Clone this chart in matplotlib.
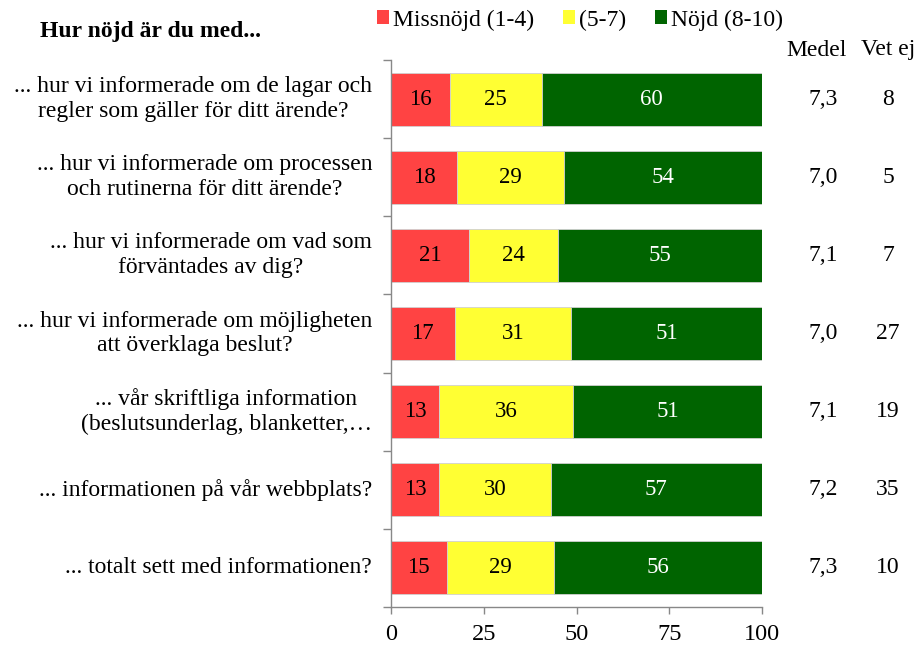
import matplotlib
matplotlib.use("Agg")
import matplotlib.pyplot as plt
import numpy as np
from matplotlib.patches import Patch

plt.rcParams['font.family'] = ['Liberation Serif', 'DejaVu Serif']

categories = [
    "... hur vi informerade om de lagar och\nregler som gäller för ditt ärende?",
    "... hur vi informerade om processen\noch rutinerna för ditt ärende?",
    "... hur vi informerade om vad som\nförväntades av dig?",
    "... hur vi informerade om möjligheten\natt överklaga beslut?",
    "... vår skriftliga information\n(beslutsunderlag, blanketter,…",
    "... informationen på vår webbplats?",
    "... totalt sett med informationen?",
]
missnojd = [16, 18, 21, 17, 13, 13, 15]
mellan = [25, 29, 24, 31, 36, 30, 29]
nojd = [60, 54, 55, 51, 51, 57, 56]
medel = ["7,3", "7,0", "7,1", "7,0", "7,1", "7,2", "7,3"]
vet_ej = ["8", "5", "7", "27", "19", "35", "10"]
series_names = ["Missnöjd (1-4)", "(5-7)", "Nöjd (8-10)"]
colors = ["#FF4343", "#FFFF33", "#006400"]
text_colors = ["black", "black", "white"]
xticks = [0, 25, 50, 75, 100]

FS = 17

data = np.array([missnojd, mellan, nojd], dtype=float)
totals = data.sum(axis=0)
shares = data / totals * 100

fig = plt.figure(figsize=(9.21, 6.46), dpi=100)
ax = fig.add_axes([391/921, 1-607/646, (762-391)/921, (607-60)/646])

y = np.arange(len(categories))
left = np.zeros(len(categories))
for i in range(3):
    ax.barh(y, shares[i], left=left, height=0.68, color=colors[i],
            edgecolor="#D0D0D0", linewidth=0.6)
    for j in range(len(categories)):
        ax.text(left[j] + shares[i][j] / 2, y[j], str(int(data[i][j])),
                ha="center", va="center", fontsize=16.5, color=text_colors[i])
    left += shares[i]

ax.set_xlim(0, 100)
ax.set_ylim(len(categories) - 0.5, -0.5)
ax.set_xticks(xticks)
ax.set_xticklabels([str(t) for t in xticks], fontsize=17.5)
ax.set_yticks(y)
ax.set_yticklabels([])
ax.tick_params(axis="y", which="major", length=0)
ax.set_yticks(np.arange(-0.5, len(categories), 1), minor=True)
ax.tick_params(axis="y", which="minor", length=6, color="#888888", width=1)
ax.tick_params(axis="x", length=5, color="#888888", width=1, pad=7)

for j, lab in enumerate(categories):
    ax.annotate(lab, xy=(0, y[j]), xycoords=("axes fraction", "data"),
                xytext=(-19, 0), textcoords="offset pixels",
                ha="right", va="center", fontsize=FS, multialignment="center",
                linespacing=1.25)

for s in ["top", "right"]:
    ax.spines[s].set_visible(False)
for s in ["left", "bottom"]:
    ax.spines[s].set_color("#888888")
    ax.spines[s].set_linewidth(1)

x_medel = (823 - 391) / 3.71
x_vet = (888 - 391) / 3.71
for j in range(len(categories)):
    ax.text(x_medel, y[j], medel[j], ha="center", va="center", fontsize=FS, clip_on=False)
    ax.text(x_vet, y[j], vet_ej[j], ha="center", va="center", fontsize=FS, clip_on=False)

fig.text(817/921, 1-50/646, "Medel", ha="center", va="center", fontsize=FS)
fig.text(888/921, 1-50/646, "Vet ej", ha="center", va="center", fontsize=FS)
fig.text(40/921, 1-32/646, "Hur nöjd är du med...", ha="left", va="center",
         fontsize=FS, fontweight="bold")

handles = [Patch(facecolor=c, edgecolor="none") for c in colors]
fig.legend(handles, series_names, loc="center", bbox_to_anchor=(580/921, 1-20/646),
           ncol=3, frameon=False, fontsize=FS, handlelength=0.5, handleheight=0.5,
           handletextpad=0.2, columnspacing=1.2, borderpad=0, borderaxespad=0)

fig.savefig("out.png", dpi=100)
